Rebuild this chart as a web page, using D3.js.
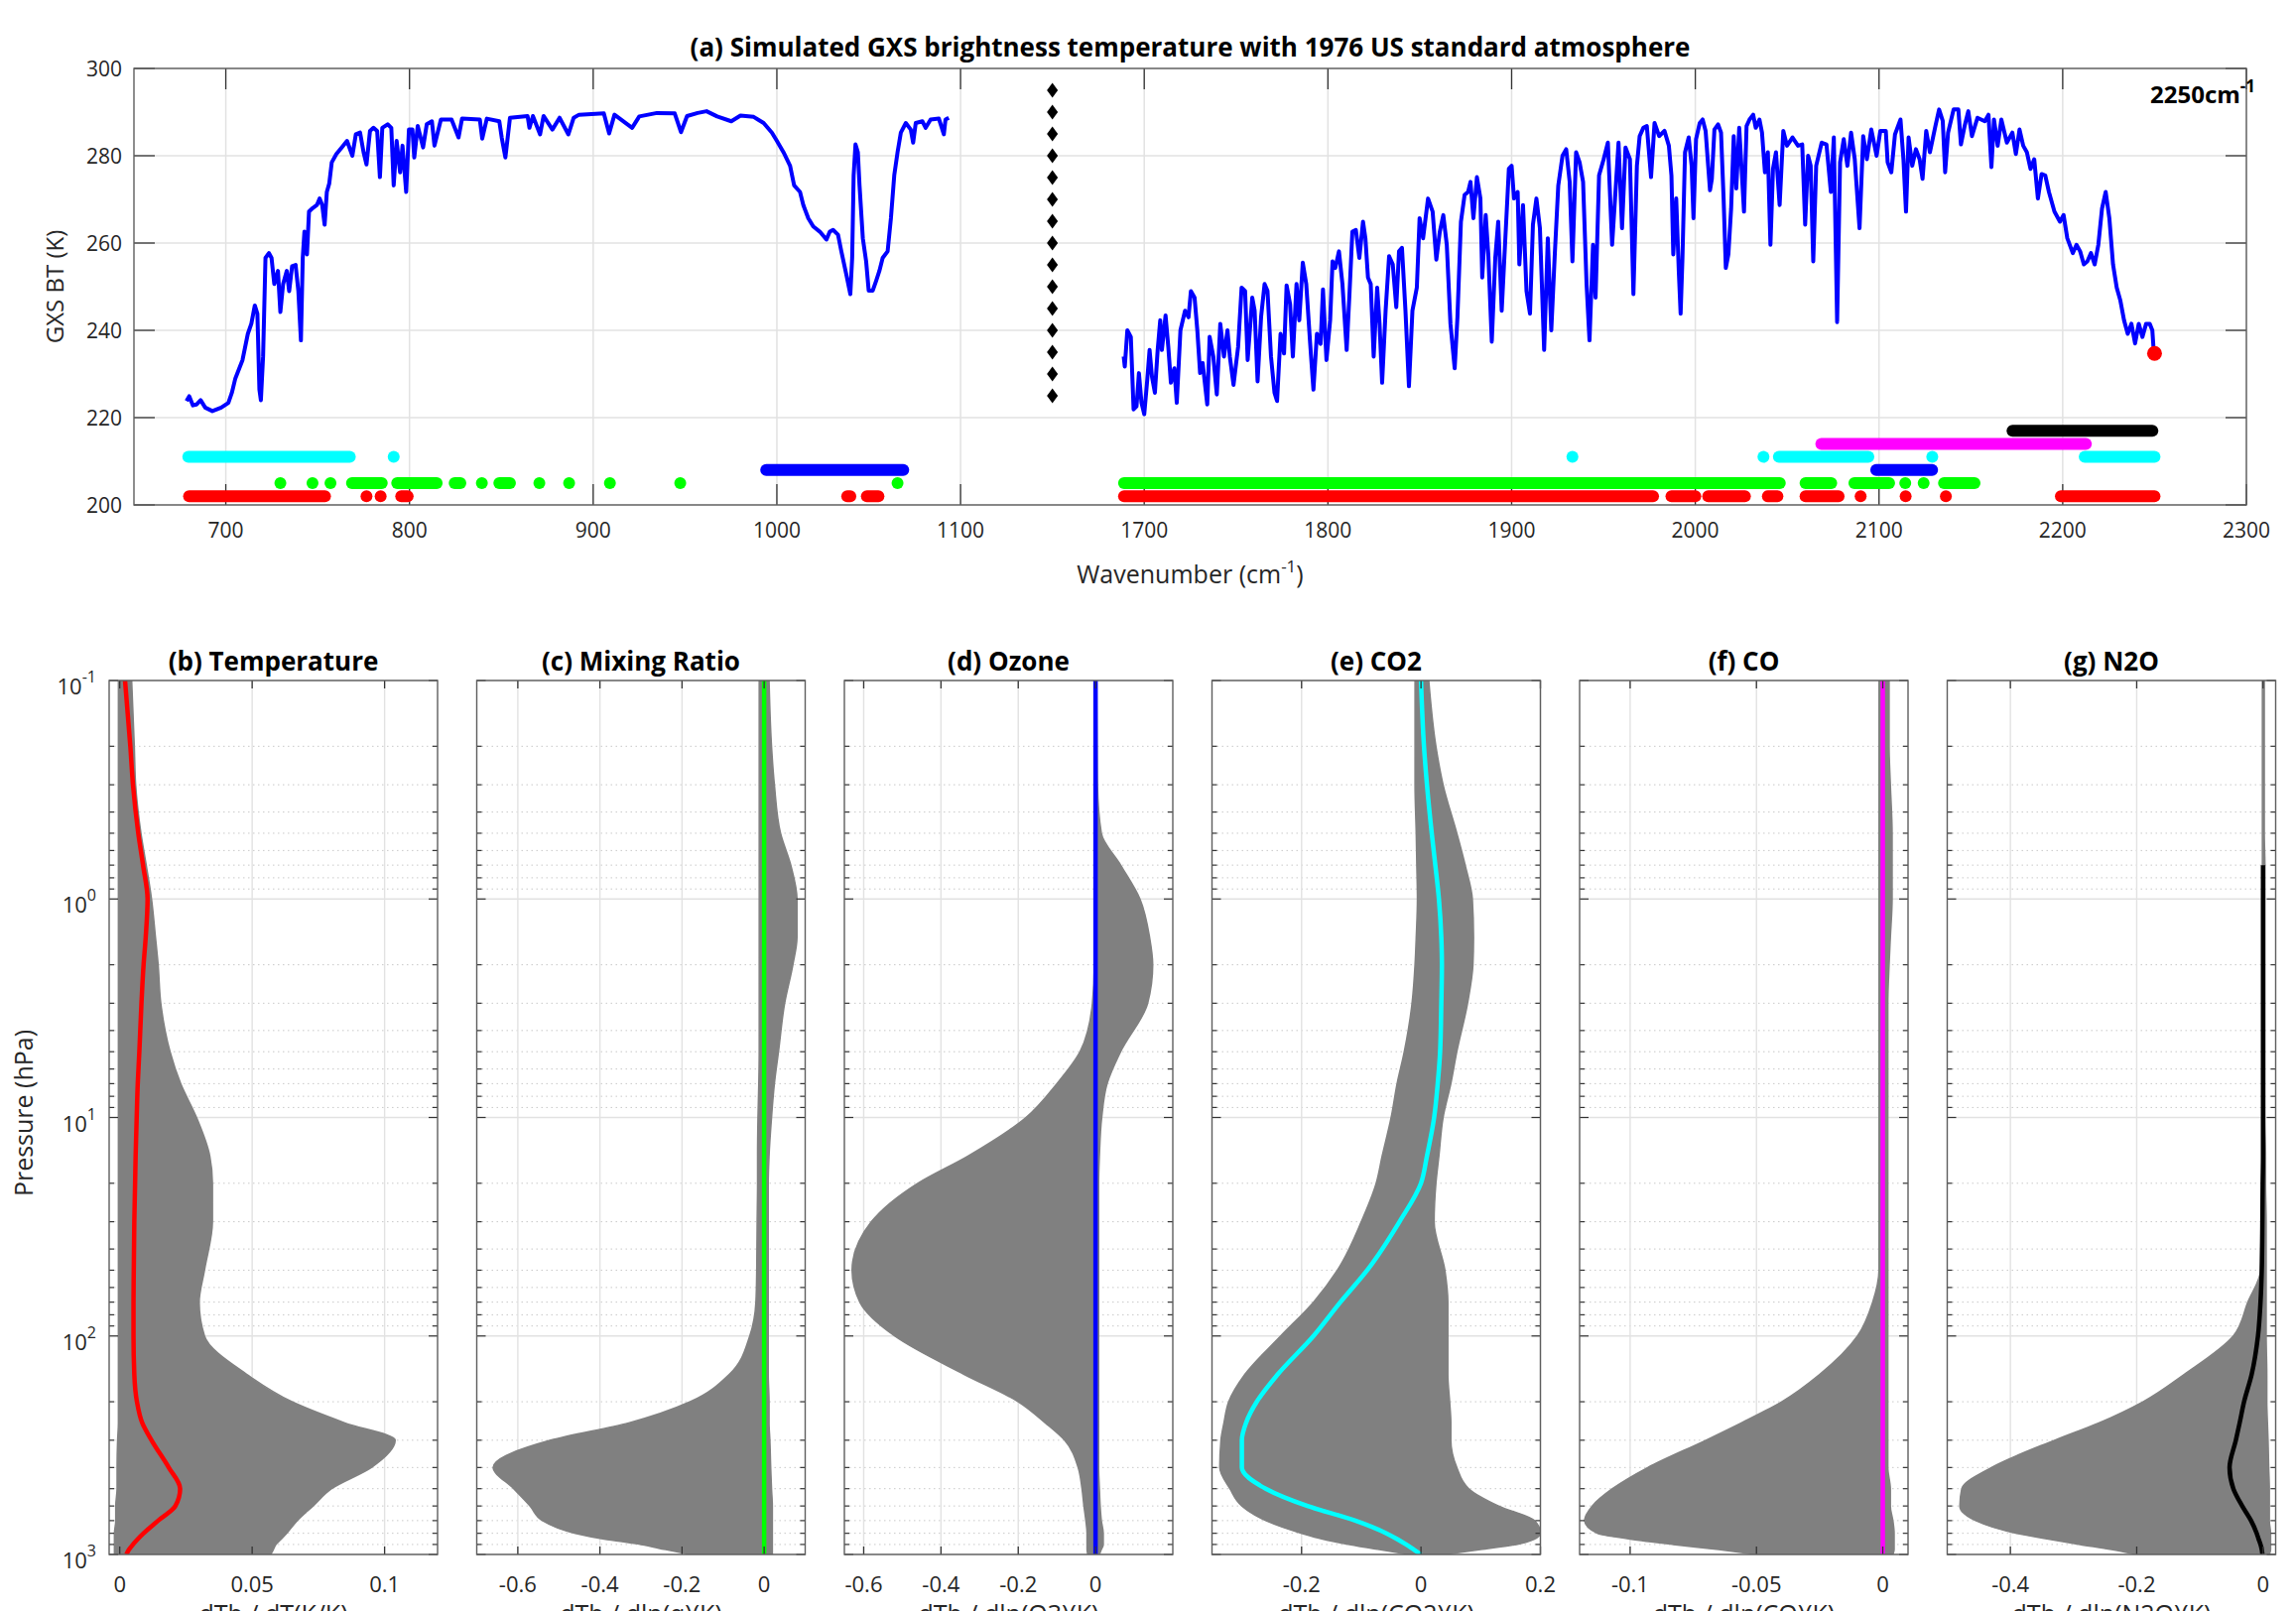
<!DOCTYPE html>
<html>
<head>
<meta charset="utf-8">
<script src="https://cdn.jsdelivr.net/npm/d3@7"></script>
<style>
  body { margin: 0; background: #fff; }
  text { font-family: 'Open Sans', 'Noto Sans', sans-serif; fill: #262626; }
</style>
</head>
<body>
<svg id="chart" width="2314" height="1624"></svg>
<script>
// ---------- panel (a): simulated spectrum, two bands
var specLeftWn = [678.6,680.1,682.1,684.0,686.3,688.8,692.7,697.5,701.4,703.3,705.2,709.1,712.0,713.9,715.8,717.2,718.3,719.1,720.3,721.6,723.5,724.9,726.4,728.4,729.7,731.2,733.2,734.5,736.1,738.0,739.5,740.9,741.9,742.8,744.2,745.3,747.3,749.6,751.1,752.5,753.8,755.0,756.3,757.7,760.2,763.1,766.0,768.9,770.8,773.1,775.0,776.6,778.5,780.4,782.4,783.9,785.2,788.1,790.1,791.4,793.0,794.9,796.2,798.2,799.7,801.6,802.6,804.5,807.4,809.4,812.2,813.6,817.1,822.9,826.7,828.6,838.3,839.6,842.1,848.9,850.2,852.2,854.7,864.3,865.3,867.2,871.1,873.0,877.8,881.7,886.5,889.4,892.3,905.8,908.7,911.6,921.2,925.1,934.7,944.4,947.8,951.1,956.9,961.7,967.5,975.2,980.2,987.4,992.8,997.3,1000.0,1003.6,1007.2,1009.4,1012.6,1014.4,1017.1,1019.8,1023.4,1027.0,1028.8,1030.6,1033.3,1035.1,1037.8,1040.0,1041.0,1041.8,1042.8,1044.1,1045.0,1046.8,1048.6,1050.0,1052.2,1054.0,1055.8,1057.6,1060.3,1062.1,1063.9,1065.7,1067.5,1070.2,1072.9,1074.2,1075.6,1079.2,1081.0,1083.7,1088.2,1090.9,1091.8,1093.6];
var specLeftBT = [223.8,224.9,222.8,223.0,224.0,222.3,221.5,222.3,223.4,225.7,229.0,233.2,239.2,241.5,245.7,243.8,226.4,224.0,234.0,256.6,257.7,256.6,250.6,253.6,244.2,250.6,253.6,249.0,254.7,255.0,249.0,237.7,256.6,262.6,257.4,267.2,268.0,268.7,270.2,268.7,264.2,271.7,273.6,278.5,280.4,281.9,283.4,280.0,284.9,285.3,280.8,278.0,285.7,286.4,285.7,275.1,286.4,287.2,286.4,273.2,283.4,276.2,282.3,271.7,286.0,286.0,279.6,286.8,281.9,287.2,287.9,282.3,288.3,288.3,284.2,288.5,288.3,283.9,288.5,287.9,284.2,279.6,288.7,289.1,286.4,289.1,284.9,289.1,286.0,288.7,284.9,288.7,289.4,289.7,285.1,289.4,286.4,289.0,289.8,289.7,285.4,289.1,289.8,290.2,289.0,287.9,289.2,288.9,287.5,285.3,283.4,280.8,277.7,273.2,271.7,268.7,265.7,263.8,262.6,260.8,262.6,263.0,261.9,258.1,252.8,248.3,256.6,275.5,282.6,280.8,273.2,261.1,255.8,249.1,249.1,251.3,253.6,256.6,258.1,265.7,275.5,280.8,285.3,287.5,286.0,283.0,287.5,287.9,286.4,288.3,288.5,284.9,288.3,288.7];

var specRightWn = [1688.8,1689.4,1690.8,1692.7,1694.2,1695.8,1697.1,1698.5,1700.0,1701.5,1702.9,1704.2,1705.8,1707.3,1708.7,1709.6,1711.6,1713.1,1714.5,1716.4,1717.7,1719.7,1722.2,1724.1,1725.4,1727.4,1728.9,1730.4,1731.8,1734.3,1735.6,1737.6,1739.5,1741.4,1743.4,1745.3,1746.6,1748.6,1751.1,1753.0,1754.9,1756.3,1758.8,1760.1,1761.7,1763.6,1765.5,1767.1,1769.0,1770.9,1772.3,1774.2,1776.1,1777.5,1779.4,1780.9,1782.9,1784.4,1786.3,1788.2,1790.2,1792.1,1794.0,1796.0,1797.3,1799.2,1801.2,1802.5,1804.0,1806.0,1807.9,1810.2,1811.8,1813.3,1815.2,1817.1,1819.1,1820.4,1821.8,1823.3,1824.9,1826.8,1828.1,1829.5,1831.4,1833.3,1835.3,1837.2,1838.7,1840.3,1842.2,1844.1,1846.0,1848.4,1849.9,1851.8,1854.5,1857.0,1859.0,1860.9,1862.8,1864.7,1866.7,1869.0,1870.5,1872.4,1874.4,1876.3,1877.6,1879.2,1881.1,1883.0,1884.0,1885.9,1887.3,1889.2,1891.1,1892.7,1894.6,1896.5,1898.5,1900.0,1901.3,1903.3,1904.2,1906.2,1908.1,1910.0,1911.6,1913.5,1915.4,1917.7,1919.7,1921.6,1923.5,1925.4,1927.7,1929.7,1931.6,1933.1,1935.1,1937.0,1938.9,1940.8,1942.4,1944.3,1945.7,1947.6,1950.1,1952.4,1954.7,1956.3,1958.2,1960.1,1962.0,1964.4,1966.3,1968.2,1969.7,1971.7,1973.6,1975.9,1977.8,1980.3,1983.2,1985.6,1987.0,1988.0,1989.6,1991.0,1992.0,1993.0,1994.4,1996.4,1998.0,1999.0,2000.4,2002.4,2004.0,2005.6,2007.0,2008.0,2009.0,2010.4,2012.4,2014.0,2015.4,2016.6,2018.0,2019.5,2020.9,2022.3,2023.9,2025.3,2026.5,2027.9,2029.5,2031.5,2032.9,2034.9,2036.3,2037.9,2039.5,2040.9,2042.3,2043.9,2045.9,2047.9,2049.9,2052.9,2055.9,2058.2,2059.8,2061.4,2062.8,2064.2,2065.8,2068.8,2071.4,2073.8,2075.4,2077.2,2078.8,2080.8,2082.8,2084.8,2086.8,2089.4,2091.4,2093.4,2095.8,2098.7,2100.7,2103.7,2104.7,2106.7,2108.7,2111.7,2113.3,2114.7,2116.1,2118.1,2120.1,2122.1,2123.7,2125.7,2127.7,2130.7,2132.7,2134.7,2136.0,2137.6,2140.6,2143.2,2144.6,2146.6,2148.6,2150.6,2153.6,2157.6,2159.6,2161.2,2162.6,2164.6,2166.6,2169.6,2172.6,2174.5,2176.5,2178.5,2180.5,2182.5,2184.5,2186.5,2188.5,2190.5,2192.5,2195.5,2198.5,2200.5,2202.5,2205.5,2207.5,2209.5,2211.5,2213.4,2215.4,2217.4,2219.4,2221.4,2223.4,2225.4,2227.4,2229.4,2231.4,2233.4,2235.4,2237.4,2239.4,2241.4,2243.4,2245.4,2247.4,2248.8,2249.4];
var specRightBT = [234.0,231.7,240.0,238.5,221.9,222.6,230.2,223.4,220.8,228.0,235.5,229.4,225.7,235.5,242.3,235.5,243.4,236.2,228.0,231.3,223.4,240.0,244.5,243.0,249.0,247.5,240.0,230.2,232.5,223.0,238.5,234.0,225.3,241.5,234.0,240.0,234.0,227.5,236.2,249.8,249.0,233.2,247.5,244.5,228.3,243.0,250.6,249.0,234.0,225.7,223.8,239.2,234.7,250.3,246.0,234.0,250.6,242.3,255.5,250.6,237.7,226.4,239.2,236.9,249.4,233.2,242.3,255.8,254.3,258.1,250.6,235.5,249.0,262.6,263.0,256.6,264.9,261.1,252.1,250.6,234.0,249.8,241.5,228.0,244.5,257.0,255.1,245.3,258.1,258.9,244.5,227.2,244.5,249.8,265.7,261.1,270.2,267.2,256.2,262.6,266.4,259.6,241.5,231.3,243.0,264.9,271.0,271.7,274.0,265.7,275.1,270.2,252.1,266.4,257.4,237.4,256.6,264.9,244.5,260.4,277.0,277.7,270.2,271.7,255.1,268.7,249.0,243.8,264.2,270.2,263.4,235.5,261.1,240.0,257.4,273.2,280.0,281.5,274.0,255.8,280.8,278.5,274.0,250.6,237.7,259.6,247.5,275.5,279.2,283.0,259.6,270.2,283.0,263.4,281.9,279.2,248.3,277.7,284.5,286.4,286.8,275.1,287.5,284.5,285.7,282.3,275.5,257.4,270.2,253.6,243.8,256.6,280.8,284.2,277.7,265.7,283.8,287.5,288.3,285.7,277.7,272.1,274.7,286.0,287.2,285.3,270.2,254.3,257.4,267.9,284.5,272.5,286.4,276.2,267.2,286.8,288.3,289.4,286.4,288.3,285.3,276.2,280.8,259.6,277.0,280.8,268.7,285.7,282.3,284.2,282.3,282.6,264.2,280.0,277.7,255.8,277.7,283.0,282.6,271.7,284.2,241.9,278.5,283.8,277.7,285.3,279.2,263.4,284.5,279.2,286.0,280.0,285.7,285.7,278.5,276.2,284.9,288.3,279.2,267.2,284.2,277.7,281.5,279.2,274.7,285.7,280.8,286.8,290.6,288.0,276.2,285.3,290.6,290.6,282.6,286.8,290.2,284.5,288.7,287.9,289.4,277.4,288.3,282.3,288.3,283.0,285.3,280.4,286.0,282.3,280.8,277.0,279.2,270.2,275.8,275.5,271.7,267.2,264.9,266.4,261.1,257.7,259.6,258.1,255.1,255.8,257.7,255.1,259.6,267.9,271.7,265.7,255.1,249.8,246.8,242.3,239.2,241.5,237.0,241.5,238.5,241.5,241.5,240.0,236.2];

var lastChannel = [2250, 234.7];
var breakWn = 1150;
var breakBT = [225,230,235,240,245,250,255,260,265,270,275,280,285,290,295];
var wnTicks = [700,800,900,1000,1100,1700,1800,1900,2000,2100,2200,2300];
var btTicks = [200,220,240,260,280,300];

// channel selections per species, [first, last] wavenumber
var chanT = [[680,754],[776.6,776.6],[784.3,784.3],[795.5,799],[1038.3,1040],[1049,1055.3],[1689,1977],[1987,2000],[2007,2027],[2039.5,2044.7],[2060,2078],[2090,2090],[2114.5,2114.5],[2136.4,2136.4],[2199,2250]];
var chanH2O = [[729.7,729.7],[747.2,747.2],[757,757],[768.7,784.9],[793.3,814.8],[824.6,827.7],[839.4,839.4],[848.9,854.7],[870.7,870.7],[886.9,886.9],[909.1,909.1],[947.4,947.4],[1065.7,1065.7],[1689,2046],[2060,2074],[2086.6,2105.5],[2114.3,2114.3],[2124.3,2124.3],[2135.4,2152]];
var chanO3 = [[994.2,1068.8],[2098.5,2128.9]];
var chanCO2 = [[679.6,767.5],[791.4,791.4],[1933.1,1933.1],[2037.1,2037.1],[2045.5,2094.2],[2129,2129],[2212,2250]];
var chanCO = [[2068.6,2212.6]];
var chanN2O = [[2172.7,2248.8]];
var chanRowBT = [202,205,208,211,214,217];

// ---------- panels (b)-(g): jacobians (spread of all profiles + standard atmosphere)
var presLev = [0.1,0.2,0.3,0.5,0.7,1,1.5,2,3,5,7,10,15,20,30,50,70,100,150,200,250,300,400,500,600,700,800,850,900,950,1000];

var tProf = [0.002,0.004,0.005,0.007,0.0088,0.0105,0.0098,0.009,0.0082,0.0074,0.0068,0.0064,0.006,0.0058,0.0055,0.0053,0.0052,0.0052,0.0055,0.0065,0.0085,0.012,0.0185,0.0228,0.021,0.0145,0.009,0.0068,0.005,0.0035,0.0025];
var tMin = [-0.0005,-0.0005,-0.0005,-0.0005,-0.0005,-0.0005,-0.0005,-0.0005,-0.0005,-0.0005,-0.0005,-0.0005,-0.0005,-0.0005,-0.0005,-0.0005,-0.0005,-0.0005,-0.0005,-0.0005,-0.0005,-0.0008,-0.001,-0.001,-0.0015,-0.0015,-0.002,-0.002,-0.002,-0.002,-0.002];
var tMax = [0.0045,0.0055,0.006,0.008,0.01,0.012,0.0135,0.0145,0.0155,0.019,0.023,0.029,0.034,0.035,0.035,0.032,0.03,0.032,0.048,0.065,0.085,0.104,0.095,0.08,0.073,0.067,0.063,0.061,0.059,0.058,0.057];

var qProf = [0,0,0,0,0,0,0,0,0,0,0,0,0,0,0,0,0,0,0,0,0,0,0,0,0,0,0,0,0,0,0];
var qMin = [-0.012,-0.012,-0.012,-0.012,-0.012,-0.012,-0.012,-0.012,-0.012,-0.012,-0.013,-0.015,-0.016,-0.016,-0.017,-0.018,-0.02,-0.035,-0.085,-0.18,-0.33,-0.52,-0.66,-0.61,-0.57,-0.54,-0.46,-0.39,-0.3,-0.24,-0.18];
var qMax = [0.012,0.018,0.025,0.04,0.065,0.08,0.08,0.07,0.05,0.035,0.025,0.018,0.012,0.01,0.01,0.01,0.01,0.01,0.01,0.012,0.012,0.014,0.016,0.018,0.02,0.02,0.02,0.02,0.02,0.02,0.02];

var o3Prof = [0,0,0,0,0,0,0,0,0,0,0,0,0,0,0,0,0,0,0,0,0,0,0,0,0,0,0,0,0,0,0];
var o3Min = [-0.003,-0.003,-0.003,-0.003,-0.003,-0.003,-0.003,-0.003,-0.008,-0.04,-0.1,-0.18,-0.33,-0.46,-0.58,-0.63,-0.61,-0.52,-0.34,-0.2,-0.13,-0.08,-0.045,-0.035,-0.03,-0.025,-0.022,-0.022,-0.022,-0.022,-0.02];
var o3Max = [0.003,0.004,0.005,0.015,0.065,0.115,0.14,0.148,0.135,0.065,0.03,0.016,0.01,0.008,0.008,0.008,0.008,0.008,0.008,0.008,0.008,0.008,0.008,0.01,0.012,0.015,0.02,0.02,0.02,0.015,0.01];

var co2Prof = [0,0.005,0.01,0.018,0.024,0.03,0.034,0.035,0.034,0.032,0.028,0.022,0.01,0,-0.036,-0.09,-0.135,-0.18,-0.24,-0.275,-0.293,-0.3,-0.3,-0.26,-0.19,-0.11,-0.058,-0.04,-0.025,-0.012,0];
var co2Min = [-0.01,-0.01,-0.01,-0.008,-0.007,-0.006,-0.008,-0.01,-0.015,-0.028,-0.04,-0.05,-0.065,-0.075,-0.1,-0.14,-0.18,-0.235,-0.295,-0.322,-0.33,-0.335,-0.337,-0.32,-0.3,-0.26,-0.2,-0.165,-0.12,-0.07,-0.02];
var co2Max = [0.013,0.025,0.037,0.06,0.074,0.086,0.088,0.087,0.078,0.06,0.05,0.037,0.03,0.025,0.022,0.04,0.045,0.045,0.045,0.048,0.05,0.05,0.06,0.08,0.13,0.19,0.2,0.19,0.16,0.1,0.04];

var coProf = [0,0,0,0,0,0,0,0,0,0,0,0,0,0,0,0,0,0,0,0,0,0,0,0,0,0,0,0,0,0,0];
var coMin = [-0.0015,-0.0015,-0.0015,-0.0015,-0.0015,-0.0015,-0.0015,-0.0015,-0.0015,-0.0015,-0.0015,-0.0015,-0.0015,-0.0015,-0.0015,-0.0015,-0.004,-0.01,-0.025,-0.04,-0.056,-0.07,-0.093,-0.107,-0.115,-0.118,-0.113,-0.1,-0.083,-0.065,-0.05];
var coMax = [0.0025,0.0025,0.003,0.0037,0.0037,0.0037,0.003,0.0025,0.002,0.002,0.002,0.002,0.002,0.002,0.002,0.002,0.002,0.002,0.002,0.002,0.002,0.002,0.002,0.003,0.003,0.004,0.0045,0.0045,0.0045,0.0045,0.004];

var n2oProf = [null,null,null,null,0,0,0,0,0,0,0,0,0,-0.0005,-0.001,-0.002,-0.004,-0.008,-0.018,-0.03,-0.037,-0.043,-0.053,-0.047,-0.033,-0.019,-0.01,-0.007,-0.004,-0.002,-0.001];
var n2oMin = [-0.001,-0.001,-0.001,-0.001,-0.001,-0.001,-0.001,-0.001,-0.001,-0.001,-0.001,-0.001,-0.0015,-0.002,-0.003,-0.004,-0.024,-0.047,-0.125,-0.19,-0.26,-0.33,-0.43,-0.477,-0.48,-0.455,-0.39,-0.34,-0.29,-0.24,-0.2];
var n2oMax = [0.002,0.002,0.002,0.002,0.003,0.003,0.003,0.003,0.003,0.003,0.003,0.003,0.004,0.004,0.005,0.005,0.005,0.005,0.006,0.006,0.007,0.008,0.009,0.01,0.01,0.01,0.012,0.012,0.012,0.012,0.01];

var svg = d3.select('#chart');
var gridCol = '#e2e2e2', boxCol = '#5e5e5e', tickCol = '#333';

// ================= panel (a) =================
var top0 = 69, bot0 = 509, left0 = 135, right0 = 2264;
// the two bands share one axis: 1700-2300 is drawn right after 1100
function squeeze(w) { return w >= 1400 ? w - 500 : w; }
var x = d3.scaleLinear().domain([650, 1800]).range([left0, right0]);
var y = d3.scaleLinear().domain([200, 300]).range([bot0, top0]);
var a = svg.append('g');

a.selectAll('.vg').data(wnTicks).enter().append('line')
  .attr('x1', d => x(squeeze(d))).attr('x2', d => x(squeeze(d)))
  .attr('y1', top0).attr('y2', bot0)
  .attr('stroke', gridCol).attr('stroke-width', 1.5);
a.selectAll('.hg').data(btTicks).enter().append('line')
  .attr('x1', left0).attr('x2', right0)
  .attr('y1', d => y(d)).attr('y2', d => y(d))
  .attr('stroke', gridCol).attr('stroke-width', 1.5);

// tick marks (inward, both sides)
wnTicks.forEach(function (d) {
  var xx = x(squeeze(d));
  a.append('line').attr('x1', xx).attr('x2', xx).attr('y1', bot0).attr('y2', bot0 - 21).attr('stroke', tickCol).attr('stroke-width', 1.3);
  a.append('line').attr('x1', xx).attr('x2', xx).attr('y1', top0).attr('y2', top0 + 21).attr('stroke', tickCol).attr('stroke-width', 1.3);
  a.append('text').attr('x', xx).attr('y', 542).attr('text-anchor', 'middle')
    .style('font-size', '21px').text(d);
});
btTicks.forEach(function (d) {
  a.append('line').attr('x1', left0).attr('x2', left0 + 21).attr('y1', y(d)).attr('y2', y(d)).attr('stroke', tickCol).attr('stroke-width', 1.3);
  a.append('line').attr('x1', right0).attr('x2', right0 - 21).attr('y1', y(d)).attr('y2', y(d)).attr('stroke', tickCol).attr('stroke-width', 1.3);
  a.append('text').attr('x', left0 - 12).attr('y', y(d) + 7.5).attr('text-anchor', 'end')
    .style('font-size', '21px').text(d);
});

a.append('rect').attr('x', left0).attr('y', top0).attr('width', right0 - left0).attr('height', bot0 - top0)
  .attr('fill', 'none').attr('stroke', boxCol).attr('stroke-width', 1.4);

// channel rows
var rows = [
  { ranges: chanT, color: '#ff0000' },
  { ranges: chanH2O, color: '#00ff00' },
  { ranges: chanO3, color: '#0000ff' },
  { ranges: chanCO2, color: '#00ffff' },
  { ranges: chanCO, color: '#ff00ff' },
  { ranges: chanN2O, color: '#000000' }
];
rows.forEach(function (r, i) {
  var yy = y(chanRowBT[i]);
  r.ranges.forEach(function (rg) {
    if (rg[0] === rg[1]) {
      a.append('circle').attr('cx', x(squeeze(rg[0]))).attr('cy', yy).attr('r', 6).attr('fill', r.color);
    } else {
      a.append('line').attr('x1', x(squeeze(rg[0]))).attr('x2', x(squeeze(rg[1])))
        .attr('y1', yy).attr('y2', yy).attr('stroke', r.color)
        .attr('stroke-width', 12).attr('stroke-linecap', 'round');
    }
  });
});

var specLine = d3.line().x(d => x(squeeze(d[0]))).y(d => y(d[1]));
[[specLeftWn, specLeftBT], [specRightWn, specRightBT]].forEach(function (s) {
  a.append('path').datum(d3.zip(s[0], s[1]))
    .attr('d', specLine).attr('fill', 'none').attr('stroke', '#0000ff')
    .attr('stroke-width', 4).attr('stroke-linejoin', 'round');
});

a.append('circle').attr('cx', x(squeeze(lastChannel[0]))).attr('cy', y(lastChannel[1]))
  .attr('r', 7.5).attr('fill', '#ff0000');

a.selectAll('.brk').data(breakBT).enter().append('path')
  .attr('transform', d => 'translate(' + x(breakWn) + ',' + y(d) + ')')
  .attr('d', 'M0,-7.5L5.5,0L0,7.5L-5.5,0Z').attr('fill', '#000');

a.append('text').attr('x', (left0 + right0) / 2).attr('y', 57).attr('text-anchor', 'middle')
  .style('font-size', '26px').style('font-weight', 'bold').style('fill', '#000')
  .text('(a) Simulated GXS brightness temperature with 1976 US standard atmosphere');

var lab = a.append('text').attr('x', 2273).attr('y', 104).attr('text-anchor', 'end')
  .style('font-size', '24px').style('font-weight', 'bold').style('fill', '#000');
lab.append('tspan').text('2250cm');
lab.append('tspan').attr('dy', -11).style('font-size', '17px').text('-1');

var xl = a.append('text').attr('x', (left0 + right0) / 2).attr('y', 588).attr('text-anchor', 'middle')
  .style('font-size', '25px');
xl.append('tspan').text('Wavenumber (cm');
xl.append('tspan').attr('dy', -11).style('font-size', '17px').text('-1');
xl.append('tspan').attr('dy', 11).text(')');

a.append('text').attr('transform', 'translate(64,' + ((top0 + bot0) / 2) + ') rotate(-90)')
  .attr('text-anchor', 'middle').style('font-size', '24px').text('GXS BT (K)');

// ================= panels (b)-(g) =================
var pTop = 686, pBot = 1567, pW = 331, pStep = 370.5, pLeft = 110;
var yp = d3.scaleLog().domain([0.1, 1000]).range([pTop, pBot]);
var decades = [0.1, 1, 10, 100, 1000];
var minors = [];
[0.1, 1, 10, 100].forEach(function (d) { for (var k = 2; k <= 9; k++) minors.push(d * k); });

var panels = [
  { title: '(b) Temperature', dom: [-0.004, 0.12], ticks: [0, 0.05, 0.1], lo: tMin, hi: tMax, prof: tProf, color: '#ff0000', xlab: 'dTb / dT(K/K)' },
  { title: '(c) Mixing Ratio', dom: [-0.7, 0.1], ticks: [-0.6, -0.4, -0.2, 0], lo: qMin, hi: qMax, prof: qProf, color: '#00ff00', xlab: 'dTb / dln(q)(K)' },
  { title: '(d) Ozone', dom: [-0.65, 0.2], ticks: [-0.6, -0.4, -0.2, 0], lo: o3Min, hi: o3Max, prof: o3Prof, color: '#0000ff', xlab: 'dTb / dln(O3)(K)' },
  { title: '(e) CO2', dom: [-0.35, 0.2], ticks: [-0.2, 0, 0.2], lo: co2Min, hi: co2Max, prof: co2Prof, color: '#00ffff', xlab: 'dTb / dln(CO2)(K)' },
  { title: '(f) CO', dom: [-0.12, 0.01], ticks: [-0.1, -0.05, 0], lo: coMin, hi: coMax, prof: coProf, color: '#ff00ff', xlab: 'dTb / dln(CO)(K)' },
  { title: '(g) N2O', dom: [-0.5, 0.02], ticks: [-0.4, -0.2, 0], lo: n2oMin, hi: n2oMax, prof: n2oProf, color: '#000000', xlab: 'dTb / dln(N2O)(K)' }
];

panels.forEach(function (P, i) {
  var L = pLeft + i * pStep, R = L + pW;
  var xs = d3.scaleLinear().domain(P.dom).range([L, R]);
  var g = svg.append('g');
  var cid = 'clip' + i;
  g.append('clipPath').attr('id', cid).append('rect')
    .attr('x', L).attr('y', pTop).attr('width', pW).attr('height', pBot - pTop);

  // grid
  g.selectAll('.mg').data(minors).enter().append('line')
    .attr('x1', L).attr('x2', R).attr('y1', d => yp(d)).attr('y2', d => yp(d))
    .attr('stroke', '#c9c9c9').attr('stroke-width', 1).attr('stroke-dasharray', '1.5,3.5');
  g.selectAll('.dg').data(decades).enter().append('line')
    .attr('x1', L).attr('x2', R).attr('y1', d => yp(d)).attr('y2', d => yp(d))
    .attr('stroke', gridCol).attr('stroke-width', 1.4);
  g.selectAll('.xg').data(P.ticks).enter().append('line')
    .attr('x1', d => xs(d)).attr('x2', d => xs(d)).attr('y1', pTop).attr('y2', pBot)
    .attr('stroke', gridCol).attr('stroke-width', 1.4);

  // spread of all profiles
  var band = d3.area().curve(d3.curveMonotoneY)
    .y(d => yp(d[0])).x0(d => xs(d[1])).x1(d => xs(d[2]));
  g.append('path').datum(d3.zip(presLev, P.lo, P.hi))
    .attr('clip-path', 'url(#' + cid + ')')
    .attr('d', band).attr('fill', '#808080').attr('stroke', '#808080').attr('stroke-width', 1.5);

  // standard atmosphere profile
  var prof = d3.line().curve(d3.curveMonotoneY).defined(d => d[1] !== null)
    .y(d => yp(d[0])).x(d => xs(d[1]));
  g.append('path').datum(d3.zip(presLev, P.prof))
    .attr('clip-path', 'url(#' + cid + ')')
    .attr('d', prof).attr('fill', 'none').attr('stroke', P.color).attr('stroke-width', 4.5);

  // ticks
  P.ticks.forEach(function (t) {
    g.append('line').attr('x1', xs(t)).attr('x2', xs(t)).attr('y1', pBot).attr('y2', pBot - 8).attr('stroke', tickCol).attr('stroke-width', 1.3);
    g.append('line').attr('x1', xs(t)).attr('x2', xs(t)).attr('y1', pTop).attr('y2', pTop + 8).attr('stroke', tickCol).attr('stroke-width', 1.3);
    g.append('text').attr('x', xs(t)).attr('y', 1605).attr('text-anchor', 'middle')
      .style('font-size', '22px').text(String(t));
  });
  decades.concat(minors).forEach(function (p) {
    var len = decades.indexOf(p) >= 0 ? 9 : 5;
    g.append('line').attr('x1', L).attr('x2', L + len).attr('y1', yp(p)).attr('y2', yp(p)).attr('stroke', tickCol).attr('stroke-width', 1.2);
    g.append('line').attr('x1', R).attr('x2', R - len).attr('y1', yp(p)).attr('y2', yp(p)).attr('stroke', tickCol).attr('stroke-width', 1.2);
  });
  g.append('rect').attr('x', L).attr('y', pTop).attr('width', pW).attr('height', pBot - pTop)
    .attr('fill', 'none').attr('stroke', boxCol).attr('stroke-width', 1.4);

  g.append('text').attr('x', (L + R) / 2).attr('y', 676).attr('text-anchor', 'middle')
    .style('font-size', '26px').style('font-weight', 'bold').style('fill', '#000').text(P.title);
  // x label sits at the page edge, as in the original figure
  g.append('text').attr('x', (L + R) / 2).attr('y', 1636).attr('text-anchor', 'middle')
    .style('font-size', '25px').text(P.xlab);

  if (i === 0) {
    decades.forEach(function (p) {
      var t = g.append('text').attr('x', L - 13).attr('y', yp(p) + 14).attr('text-anchor', 'end')
        .style('font-size', '22px');
      t.append('tspan').text('10');
      t.append('tspan').attr('dy', -12).style('font-size', '16px').text(Math.round(Math.log10(p)));
    });
  }
});

svg.append('text').attr('transform', 'translate(33,1122) rotate(-90)')
  .attr('text-anchor', 'middle').style('font-size', '25px').text('Pressure (hPa)');
</script>
</body>
</html>
